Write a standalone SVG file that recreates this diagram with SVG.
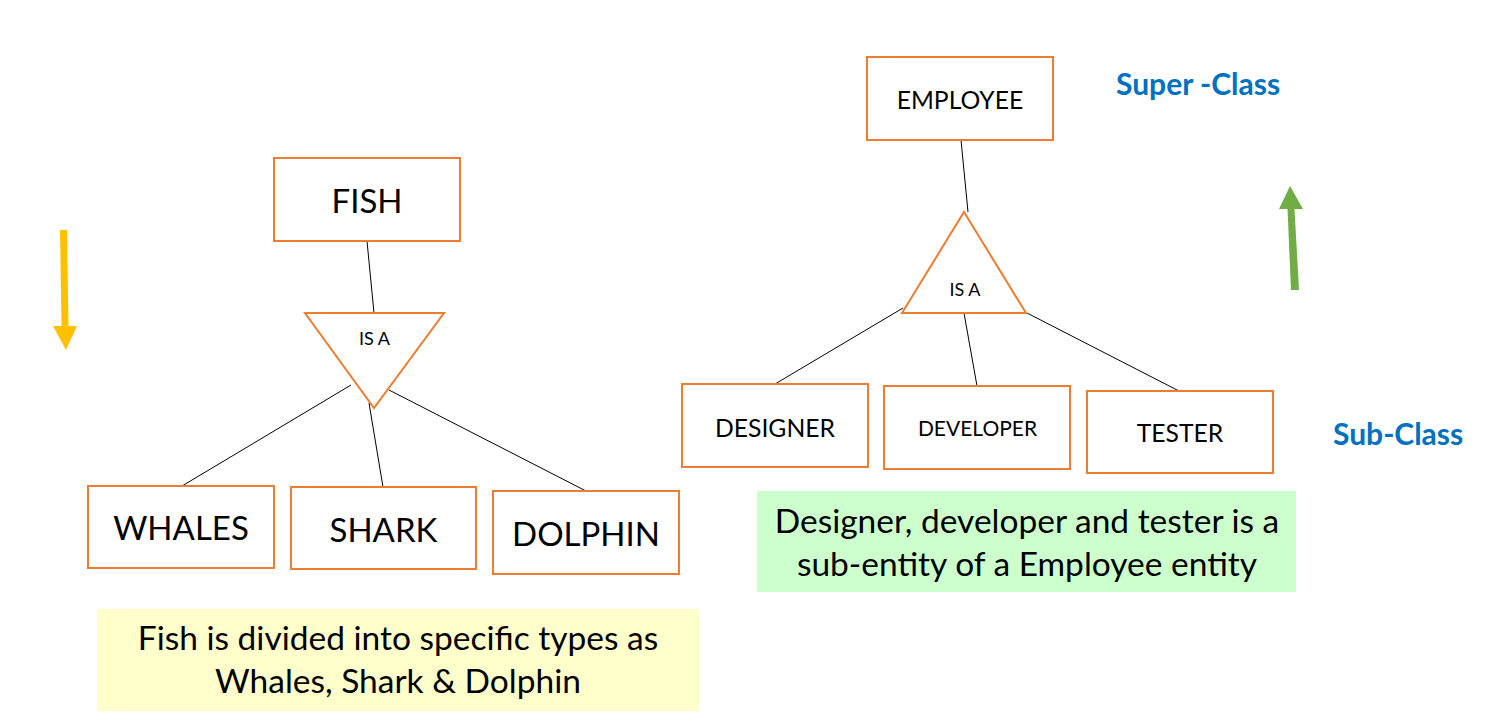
<svg xmlns="http://www.w3.org/2000/svg" width="1489" height="726" viewBox="0 0 1489 726">
<style>
.box{fill:#fff;stroke:#ED7D31;stroke-width:2}
.tri{fill:#fff;stroke:#ED7D31;stroke-width:2;stroke-linejoin:miter}
.t{font-family:Lato,"Liberation Sans",sans-serif;fill:#000;text-anchor:middle}
.big{font-size:33px}
.mid{font-size:24.7px}
.sm{font-size:18px}
.note{font-size:33.5px}
.cls{font-family:Lato,"Liberation Sans",sans-serif;font-weight:bold;font-size:30px;fill:#0070C0}
.ln{stroke:#000;stroke-width:1;fill:none}
</style>
<rect width="1489" height="726" fill="#fff"/>

<g id="connectors">
<line class="ln" x1="367" y1="241" x2="374" y2="313"/>
<line class="ln" x1="351" y1="385" x2="182" y2="486"/>
<line class="ln" x1="369" y1="403" x2="383" y2="487"/>
<line class="ln" x1="389" y1="390" x2="586" y2="491"/>
<line class="ln" x1="961" y1="140" x2="968" y2="212"/>
<line class="ln" x1="903" y1="308" x2="775" y2="384"/>
<line class="ln" x1="964" y1="313" x2="977" y2="386"/>
<line class="ln" x1="1027" y1="313" x2="1179" y2="391"/>
</g>

<g id="fish">
<rect class="box" x="274" y="158" width="186" height="83"/>
<text class="t big" x="367" y="213">FISH</text>
</g>
<g id="isa-fish">
<polygon class="tri" points="305,313 444,313 374,408"/>
<text class="t sm" x="374.5" y="345">IS A</text>
</g>
<g id="whales">
<rect class="box" x="88" y="486" width="186" height="82"/>
<text class="t big" x="181" y="540">WHALES</text>
</g>
<g id="shark">
<rect class="box" x="291" y="487" width="185" height="82"/>
<text class="t big" x="383.5" y="542">SHARK</text>
</g>
<g id="dolphin">
<rect class="box" x="493" y="491" width="186" height="83"/>
<text class="t big" x="586" y="546">DOLPHIN</text>
</g>
<g id="fish-note">
<rect x="97" y="609" width="602" height="102" fill="#FFFFCC"/>
<text class="t note" x="398" y="650">Fish is divided into specific types as</text>
<text class="t note" x="398" y="693">Whales, Shark &amp; Dolphin</text>
</g>

<g id="employee">
<rect class="box" x="867" y="57" width="186" height="83"/>
<text class="t mid" x="960" y="109">EMPLOYEE</text>
</g>
<g id="isa-employee">
<polygon class="tri" points="964,212 1026,313 902,313"/>
<text class="t sm" x="965" y="296">IS A</text>
</g>
<g id="designer">
<rect class="box" x="682" y="384" width="186" height="83"/>
<text class="t mid" x="775" y="437">DESIGNER</text>
</g>
<g id="developer">
<rect class="box" x="884" y="386" width="186" height="83"/>
<text class="t" style="font-size:21px" x="977.5" y="436">DEVELOPER</text>
</g>
<g id="tester">
<rect class="box" x="1087" y="391" width="186" height="82"/>
<text class="t mid" x="1180" y="442">TESTER</text>
</g>
<g id="employee-note">
<rect x="757" y="491" width="539" height="101" fill="#CCFFCC"/>
<text class="t note" x="1027" y="533">Designer, developer and tester is a</text>
<text class="t note" x="1027" y="576">sub-entity of a Employee entity</text>
</g>

<g id="super-class">
<text class="cls" x="1116" y="95">Super -Class</text>
</g>
<g id="sub-class">
<text class="cls" x="1333" y="445">Sub-Class</text>
</g>

<g id="arrow-down">
<polygon fill="#FFC000" points="60,230 67,230 68.5,326 77,326 66,350 53,326 61.5,326"/>
</g>
<g id="arrow-up">
<polygon fill="#70AD47" points="1299,290 1291,290 1287.5,209 1279,209 1290,186 1303,209 1294.5,209"/>
</g>
</svg>
